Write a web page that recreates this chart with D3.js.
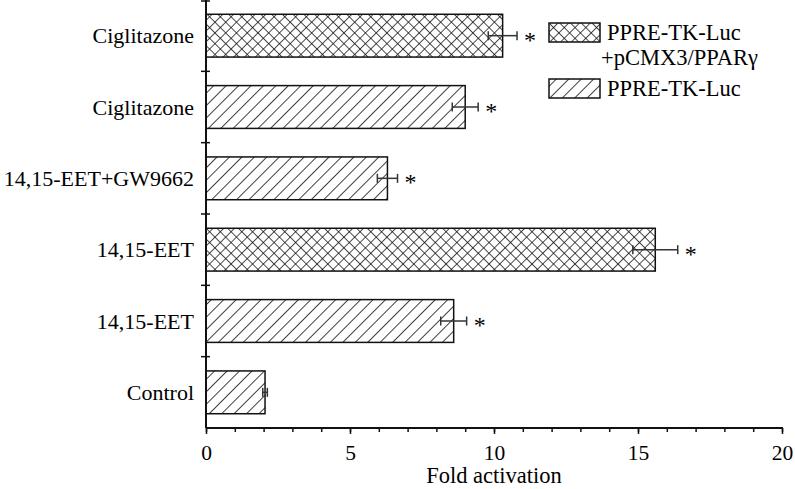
<!DOCTYPE html>
<html>
<head>
<meta charset="utf-8">
<script src="https://cdn.jsdelivr.net/npm/d3@7"></script>
<style>
  html, body { margin: 0; padding: 0; background: #fff; }
  svg { display: block; }
  text { font-family: "Liberation Serif", "Times New Roman", serif; fill: #000; }
</style>
</head>
<body>
<svg id="chart" width="795" height="489"></svg>
<script>
// ---- data (top to bottom) ----
const categories = ["Ciglitazone", "Ciglitazone", "14,15-EET+GW9662", "14,15-EET", "14,15-EET", "Control"];
const values     = [10.3, 9.0, 6.3, 15.6, 8.6, 2.05];
const errors     = [0.5, 0.45, 0.35, 0.78, 0.45, 0.08];
const patterns   = ["cross", "hatch", "hatch", "cross", "hatch", "hatch"];
const significant = [true, true, true, true, true, false];
const xTicks     = [0, 5, 10, 15, 20];
const xDomain    = [0, 20];
const legendLabels = [["PPRE-TK-Luc", "+pCMX3/PPARγ"], ["PPRE-TK-Luc"]];
const legendPatterns = ["cross", "hatch"];
const xTitle = "Fold activation";

const svg = d3.select("#chart");
const margin = { left: 206, top: 0, right: 13, bottom: 61 };
const W = 795, H = 489;

// patterns
const defs = svg.append("defs");
const hs = 8.8;
const ph = defs.append("pattern").attr("id", "hatch")
  .attr("patternUnits", "userSpaceOnUse").attr("width", hs).attr("height", hs)
  .attr("patternTransform", "rotate(45)");
ph.append("rect").attr("width", hs).attr("height", hs).attr("fill", "#fff");
ph.append("line").attr("x1", 0).attr("y1", 0).attr("x2", 0).attr("y2", hs)
  .attr("stroke", "#111").attr("stroke-width", 1.6);
const cs = 7.6;
const pc = defs.append("pattern").attr("id", "cross")
  .attr("patternUnits", "userSpaceOnUse").attr("width", cs).attr("height", cs)
  .attr("patternTransform", "rotate(45)");
pc.append("rect").attr("width", cs).attr("height", cs).attr("fill", "#fff");
pc.append("line").attr("x1", 0).attr("y1", 0).attr("x2", 0).attr("y2", cs)
  .attr("stroke", "#111").attr("stroke-width", 1.5);
pc.append("line").attr("x1", 0).attr("y1", 0).attr("x2", cs).attr("y2", 0)
  .attr("stroke", "#111").attr("stroke-width", 1.5);

const x = d3.scaleLinear().domain(xDomain).range([margin.left, W - margin.right]);
const idx = d3.range(categories.length);
const y = d3.scaleBand().domain(idx).range([margin.top, H - margin.bottom])
  .paddingInner(0.4).paddingOuter(0.2);

// bars
svg.append("g").selectAll("rect").data(idx).join("rect")
  .attr("x", x(0))
  .attr("y", i => y(i))
  .attr("width", i => x(values[i]) - x(0))
  .attr("height", y.bandwidth())
  .attr("fill", i => `url(#${patterns[i]})`)
  .attr("stroke", "#111").attr("stroke-width", 1.5);

// error bars
const eg = svg.append("g").attr("stroke", "#333").attr("stroke-width", 1.5);
idx.forEach(i => {
  const cy = y(i) + y.bandwidth() / 2;
  const x1 = x(values[i] - errors[i]), x2 = x(values[i] + errors[i]);
  eg.append("line").attr("x1", x1).attr("x2", x2).attr("y1", cy).attr("y2", cy);
  eg.append("line").attr("x1", x1).attr("x2", x1).attr("y1", cy - 4.5).attr("y2", cy + 4.5);
  eg.append("line").attr("x1", x2).attr("x2", x2).attr("y1", cy - 4.5).attr("y2", cy + 4.5);
  if (significant[i]) {
    svg.append("text").attr("x", x2 + 7).attr("y", cy + 12)
      .attr("font-size", 24).text("*");
  }
});

// x axis
const xAxisY = H - margin.bottom;
const xg = svg.append("g").attr("transform", `translate(0,${xAxisY})`);
xg.call(d3.axisBottom(x).ticks(20).tickSize(4).tickFormat(""))
  .call(g => g.select(".domain").remove());
xg.selectAll("line").attr("stroke", "#111").attr("stroke-width", 1.5);
const xg2 = svg.append("g").attr("transform", `translate(0,${xAxisY})`);
xg2.call(d3.axisBottom(x).tickValues(xTicks).tickSize(6).tickPadding(11).tickFormat(d3.format("d")));
xg2.select(".domain").remove();
xg2.selectAll("line").attr("stroke", "#111").attr("stroke-width", 1.5);
xg2.selectAll("text").attr("font-size", 21.5)
  .attr("font-family", "Liberation Serif, Times New Roman, serif").attr("fill", "#000");
svg.append("line").attr("x1", x(0)).attr("x2", x(20) + 1).attr("y1", xAxisY).attr("y2", xAxisY)
  .attr("stroke", "#111").attr("stroke-width", 2);

// y axis
svg.append("line").attr("x1", x(0)).attr("x2", x(0)).attr("y1", 0).attr("y2", xAxisY)
  .attr("stroke", "#111").attr("stroke-width", 2);
const bounds = d3.range(categories.length).map(i => y(i) - y.step() * y.paddingInner() / 2);
bounds.forEach(b => {
  svg.append("line").attr("x1", x(0) - 5).attr("x2", x(0) + 4)
    .attr("y1", Math.max(b, 1)).attr("y2", Math.max(b, 1))
    .attr("stroke", "#111").attr("stroke-width", 1.5);
});
svg.append("g").selectAll("text").data(idx).join("text")
  .attr("x", x(0) - 12)
  .attr("y", i => y(i) + y.bandwidth() / 2)
  .attr("dy", "0.35em")
  .attr("text-anchor", "end")
  .attr("font-size", 22)
  .text(i => categories[i]);

// x title
svg.append("text").attr("x", (x(0) + x(20)) / 2).attr("y", 483)
  .attr("text-anchor", "middle").attr("font-size", 22.5).text(xTitle);

// legend
const lg = svg.append("g");
const legendTop = [23, 79];
legendPatterns.forEach((p, k) => {
  lg.append("rect").attr("x", 549).attr("y", legendTop[k]).attr("width", 51).attr("height", 19)
    .attr("fill", `url(#${p})`).attr("stroke", "#111").attr("stroke-width", 1.5);
  legendLabels[k].forEach((t, j) => {
    lg.append("text").attr("x", j === 0 ? 607 : 601).attr("y", legendTop[k] + 17 + j * 25)
      .attr("font-size", 22.5).text(t);
  });
});
</script>
</body>
</html>
